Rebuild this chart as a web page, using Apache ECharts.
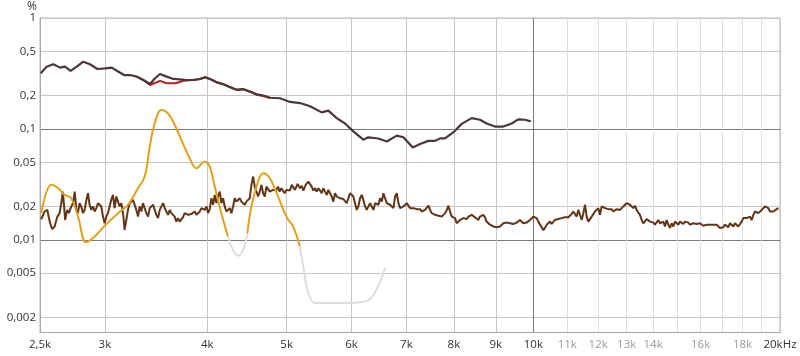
<!DOCTYPE html>
<html><head><meta charset="utf-8">
<script src="https://cdn.jsdelivr.net/npm/echarts@6/dist/echarts.min.js"></script>
<style>html,body{margin:0;padding:0;background:#fff}#c{width:800px;height:356px}</style>
</head><body><div id="c"></div>
<script>
// ---- axes ----
const xGridValues = [2500,3000,4000,5000,6000,7000,8000,9000,10000,11000,12000,13000,14000,15000,16000,17000,18000,19000,20000];
const xLabelValues = [2500,3000,4000,5000,6000,7000,8000,9000,10000,11000,12000,13000,14000,16000,18000,20000];
const yGridValues = [0.002,0.005,0.01,0.02,0.05,0.1,0.2,0.5,1];
const yLabelValues = [0.002,0.005,0.01,0.02,0.05,0.1,0.2,0.5,1];

// ---- series data: [Hz, %] ----
const darkCurve = [[2505,0.318],[2547,0.364],[2595,0.383],[2645,0.357],[2682,0.364],[2725,0.333],[2772,0.364],[2823,0.404],[2877,0.383],[2937,0.347],[3001,0.352],[3058,0.357],[3106,0.333],[3166,0.306],[3219,0.306],[3281,0.296],[3342,0.276],[3406,0.254],[3454,0.286],[3502,0.313],[3569,0.296],[3636,0.282],[3705,0.28],[3775,0.276],[3846,0.276],[3919,0.282],[3975,0.292],[4031,0.282],[4108,0.263],[4185,0.253],[4264,0.238],[4345,0.225],[4427,0.228],[4511,0.217],[4596,0.205],[4682,0.2],[4772,0.191],[4908,0.189],[5048,0.175],[5192,0.171],[5339,0.16],[5517,0.141],[5621,0.146],[5755,0.125],[5891,0.112],[6030,0.095],[6202,0.08],[6289,0.084],[6469,0.082],[6624,0.077],[6813,0.087],[6941,0.084],[7126,0.068],[7274,0.073],[7445,0.078],[7587,0.078],[7693,0.082],[7801,0.082],[7985,0.093],[8175,0.111],[8409,0.125],[8607,0.121],[8770,0.112],[8978,0.105],[9190,0.105],[9410,0.112],[9586,0.122],[9769,0.121],[9927,0.117]];

const redCurve = [[3281,0.296],[3342,0.276],[3406,0.249],[3502,0.271],[3569,0.258],[3660,0.258],[3740,0.272],[3846,0.276],[3919,0.282],[3975,0.292],[4031,0.282],[4108,0.263],[4185,0.253],[4264,0.238],[4345,0.225],[4427,0.228],[4511,0.217],[4596,0.203],[4682,0.198],[4772,0.19]];

const orangeSeg1 = [[2509,0.0174],[2581,0.0313],[2630,0.0292],[2680,0.0254],[2730,0.0237],[2782,0.0162],[2847,0.0095],[2915,0.0107],[2998,0.0134],[3113,0.0174],[3201,0.0207],[3293,0.0292],[3355,0.0372],[3403,0.0693],[3451,0.1125],[3516,0.148],[3582,0.138],[3650,0.109],[3719,0.0796],[3807,0.0544],[3879,0.0442],[3971,0.0507],[4028,0.0458],[4085,0.0302],[4161,0.0174],[4240,0.0107]];
const orangeSeg2 = [[4477,0.0115],[4528,0.020],[4614,0.0335],[4679,0.0399],[4768,0.036],[4880,0.0246],[4996,0.0162],[5090,0.0132],[5187,0.0088]];
const graySeg1 = [[4240,0.0107],[4300,0.0081],[4361,0.0072],[4423,0.0081],[4477,0.0115]];
const graySeg2 = [[5187,0.0088],[5239,0.0058],[5313,0.0033],[5414,0.0027],[5568,0.0027],[5975,0.0027],[6262,0.0028],[6440,0.0036],[6593,0.0056]];

const noiseLow = [[2508,0.0153],[2533,0.0180],[2552,0.0186],[2569,0.0146],[2586,0.0125],[2605,0.0132],[2625,0.0162],[2642,0.0174],[2654,0.0214],[2666,0.0272],[2673,0.0214],[2683,0.0151],[2698,0.0186],[2711,0.0174],[2730,0.0200],[2743,0.0214],[2756,0.0272],[2769,0.0186],[2781,0.0174],[2794,0.0214],[2807,0.0200],[2821,0.0174],[2834,0.0186],[2848,0.0229],[2861,0.0263],[2874,0.0207],[2888,0.0186],[2901,0.0200],[2915,0.0180],[2929,0.0193],[2943,0.0214],[2956,0.0221],[2970,0.0200],[2984,0.0162],[2998,0.0141],[3012,0.0162],[3026,0.0174],[3040,0.0200],[3054,0.0229],[3069,0.0254],[3083,0.0193],[3098,0.0246],[3112,0.0254],[3127,0.0200],[3142,0.0214],[3157,0.0174],[3171,0.0123],[3186,0.0151],[3201,0.0186],[3216,0.0214],[3231,0.0221],[3247,0.0229],[3262,0.0221],[3277,0.0186],[3293,0.0162],[3308,0.0200],[3324,0.0180],[3339,0.0214],[3355,0.0207],[3371,0.0174],[3387,0.0162],[3403,0.0193],[3419,0.0186],[3435,0.0207],[3451,0.0200],[3467,0.0168],[3483,0.0157],[3500,0.0186],[3516,0.0180],[3533,0.0214],[3550,0.0193],[3566,0.0180],[3583,0.0168],[3600,0.0186],[3616,0.0174],[3633,0.0180],[3650,0.0162],[3667,0.0146],[3685,0.0157],[3702,0.0146],[3719,0.0151],[3737,0.0160],[3754,0.0174],[3790,0.0168],[3808,0.0174],[3826,0.0171],[3844,0.0176],[3862,0.0180],[3880,0.0168],[3898,0.0174],[3916,0.0180],[3935,0.0193],[3953,0.0186],[3972,0.0186],[3991,0.0200],[4009,0.0174],[4028,0.0189],[4047,0.0237],[4066,0.0207],[4085,0.0254],[4104,0.0214],[4123,0.0246],[4143,0.0272],[4162,0.0214],[4182,0.0237],[4201,0.0200],[4221,0.0180],[4241,0.0174],[4261,0.0193],[4281,0.0174],[4301,0.0200],[4321,0.0237],[4341,0.0221],[4362,0.0221],[4382,0.0237],[4403,0.0221],[4423,0.0214],[4444,0.0207],[4465,0.0221],[4486,0.0214],[4507,0.0237],[4529,0.0313],[4550,0.0372],[4571,0.0302],[4593,0.0292],[4614,0.0246],[4636,0.0272],[4658,0.0313],[4680,0.0263],[4702,0.0246],[4724,0.0302],[4746,0.0313],[4768,0.0272],[4790,0.0263],[4812,0.0282],[4835,0.0292],[4858,0.0282],[4880,0.0302],[4903,0.0272],[4926,0.0292],[4949,0.0302],[4972,0.0263],[4996,0.0282]];

const noiseMid = [[5014,0.0292],[5047,0.0278],[5071,0.0313],[5094,0.0302],[5118,0.0282],[5156,0.0319],[5192,0.0292],[5216,0.0307],[5240,0.0278],[5275,0.0313],[5314,0.0335],[5339,0.0347],[5364,0.0302],[5389,0.0278],[5415,0.0292],[5440,0.0272],[5466,0.0292],[5491,0.0278],[5517,0.0263],[5543,0.0292],[5569,0.0272],[5596,0.0254],[5622,0.0282],[5648,0.0263],[5675,0.0246],[5701,0.0221],[5728,0.0263],[5755,0.0246],[5782,0.0254],[5809,0.0237],[5836,0.0229],[5864,0.0233],[5891,0.0226],[5919,0.0214],[5947,0.0207],[5975,0.0263],[6003,0.0272],[6031,0.0246],[6059,0.0214],[6088,0.0186],[6116,0.0200],[6145,0.0237],[6174,0.0254],[6203,0.0229],[6232,0.0200],[6262,0.0186],[6291,0.0200],[6321,0.0214],[6350,0.0207],[6380,0.0186],[6410,0.0214],[6440,0.0221],[6471,0.0207],[6501,0.0237],[6532,0.0221],[6562,0.0263],[6593,0.0272],[6624,0.0214],[6655,0.0221],[6686,0.0207],[6718,0.0207],[6749,0.0193],[6781,0.0246],[6813,0.0263],[6845,0.0214],[6877,0.0193],[6909,0.0186],[6942,0.0200],[6974,0.0207],[7007,0.0214],[7040,0.0207],[7073,0.0193],[7106,0.0200],[7140,0.0193],[7173,0.0186],[7207,0.0189],[7240,0.0184],[7274,0.0189],[7309,0.0180],[7343,0.0174],[7377,0.0186],[7412,0.0193],[7447,0.0203],[7482,0.0186],[7517,0.0174],[7552,0.0168],[7588,0.0168],[7623,0.0162],[7659,0.0165],[7695,0.0160],[7731,0.0162],[7768,0.0168],[7804,0.0174],[7841,0.0186],[7878,0.0203],[7914,0.0180],[7951,0.0162],[7989,0.0168],[8026,0.0157],[8064,0.0141],[8102,0.0146],[8140,0.0151],[8178,0.0146],[8217,0.0157],[8255,0.0151],[8294,0.0154],[8333,0.0162],[8372,0.0157],[8411,0.0168],[8450,0.0174]];

const noiseHigh = [[8511,0.0157],[8566,0.0151],[8606,0.0162],[8646,0.0157],[8687,0.0168],[8728,0.0160],[8770,0.0146],[8811,0.0151],[8852,0.0137],[8894,0.0141],[8936,0.0132],[8978,0.0137],[9020,0.0130],[9063,0.0128],[9106,0.0132],[9148,0.0134],[9191,0.0141],[9234,0.0137],[9278,0.0143],[9321,0.0146],[9365,0.0141],[9409,0.0143],[9453,0.0139],[9498,0.0141],[9542,0.0143],[9587,0.0146],[9632,0.0151],[9677,0.0146],[9722,0.0141],[9768,0.0146],[9814,0.0143],[9860,0.0146],[9906,0.0151],[9953,0.0146],[10000,0.0162],[10047,0.0168],[10094,0.0157],[10141,0.0146],[10189,0.0137],[10237,0.0130],[10285,0.0122],[10333,0.0128],[10382,0.0137],[10430,0.0141],[10479,0.0146],[10528,0.0139],[10578,0.0141],[10627,0.0151],[10677,0.0146],[10727,0.0154],[10778,0.0149],[10829,0.0157],[10879,0.0162],[10931,0.0160],[10982,0.0165],[11033,0.0160],[11085,0.0165],[11137,0.0171],[11190,0.0180],[11242,0.0174],[11295,0.0162],[11348,0.0186],[11401,0.0180],[11455,0.0151],[11509,0.0174],[11563,0.0207],[11617,0.0162],[11671,0.0146],[11726,0.0151],[11781,0.0162],[11836,0.0168],[11892,0.0180],[11948,0.0186],[12004,0.0193],[12060,0.0168],[12117,0.0200],[12174,0.0193],[12231,0.0193],[12288,0.0186],[12346,0.0189],[12404,0.0184],[12462,0.0189],[12520,0.0180],[12579,0.0186],[12638,0.0189],[12697,0.0193],[12758,0.0186],[12817,0.0193],[12877,0.0200],[12938,0.0207],[12998,0.0214],[13059,0.0207],[13121,0.0207],[13182,0.0200],[13244,0.0193],[13306,0.0203]];

const noiseTop = [[13369,0.0186],[13431,0.0176],[13494,0.0168],[13558,0.0151],[13621,0.0141],[13685,0.0146],[13749,0.0154],[13814,0.0151],[13879,0.0146],[13944,0.0141],[14009,0.0143],[14075,0.0137],[14141,0.0141],[14208,0.0151],[14274,0.0141],[14341,0.0137],[14409,0.0146],[14476,0.0132],[14544,0.0151],[14613,0.0137],[14681,0.0128],[14750,0.0141],[14819,0.0132],[14889,0.0146],[14959,0.0141],[15029,0.0137],[15100,0.0146],[15170,0.0143],[15242,0.0139],[15314,0.0146],[15385,0.0151],[15458,0.0143],[15530,0.0137],[15603,0.0132],[15676,0.0141],[15750,0.0146],[15824,0.0139],[15898,0.0137],[15973,0.0141],[16048,0.0137],[16123,0.0134],[16199,0.0139],[16275,0.0137],[16351,0.0132],[16428,0.0137],[16505,0.0141],[16583,0.0137],[16660,0.0132],[16739,0.0137],[16818,0.0132],[16897,0.0128],[16976,0.0123],[17055,0.0130],[17135,0.0137],[17216,0.0132],[17296,0.0130],[17378,0.0141],[17459,0.0137],[17541,0.0132],[17624,0.0141],[17706,0.0137],[17789,0.0132],[17873,0.0134],[17957,0.0146],[18041,0.0157],[18126,0.0154],[18211,0.0157],[18297,0.0154],[18383,0.0162],[18470,0.0151],[18556,0.0168],[18644,0.0180],[18731,0.0186],[18819,0.0174],[18908,0.0168],[18997,0.0186],[19086,0.0180],[19176,0.0200],[19266,0.0207],[19356,0.0193],[19447,0.0180],[19539,0.0174],[19630,0.0180],[19723,0.0186],[19815,0.0189],[19909,0.0193]];

const noiseCurve = noiseLow.concat(noiseMid, noiseHigh, noiseTop);

const FONT = '"Open Sans", "DejaVu Sans", sans-serif';
const GRID_C = '#c6c6c6', GRID_MAJOR = '#7a7a7a', GRID_LIGHT = '#dedede';

const xLineColors = xGridValues.map(v => v === 10000 ? GRID_MAJOR : (v > 10000 && v < 20000 ? GRID_LIGHT : GRID_C));
const yLineColors = yGridValues.map(v => (v === 0.1 || v === 0.01) ? GRID_MAJOR : GRID_C);

function fmtX(v) {
  if (v === 20000) return '{d|20kHz}';
  const s = String(v / 1000).replace('.', ',') + 'k';
  return (v > 10000 ? '{l|' : '{d|') + s + '}';
}
function fmtY(v) { return String(v).replace('.', ','); }

const chart = echarts.init(document.getElementById('c'), null, {renderer: 'canvas'});
function line(data, color, width, z, smooth) {
  return {type: 'line', data: data, showSymbol: false, symbol: 'none', smooth: smooth || false,
    lineStyle: {color: color, width: width}, z: z, animation: false, silent: true};
}
chart.setOption({
  animation: false,
  backgroundColor: '#ffffff',
  grid: {left: 40, right: 20, top: 18, bottom: 23.5, show: true, borderColor: '#b8b8b8', borderWidth: 1, containLabel: false, outerBoundsMode: 'none'},
  xAxis: {
    type: 'log', logBase: 10, min: 2500, max: 20000,
    axisLine: {show: true, lineStyle: {color: '#a8a8a8', width: 1}},
    axisTick: {show: false, customValues: xGridValues},
    splitLine: {show: true, lineStyle: {color: xLineColors, width: 1}},
    axisLabel: {customValues: xLabelValues, formatter: fmtX, margin: 6,
      rich: {d: {color: '#333', fontSize: 11.5, fontFamily: FONT}, l: {color: '#9a9a9a', fontSize: 11.5, fontFamily: FONT}}}
  },
  yAxis: {
    type: 'log', logBase: 10, min: 0.00146, max: 1,
    name: '%', nameLocation: 'end', nameGap: 5,
    nameTextStyle: {color: '#333', fontSize: 12, fontFamily: FONT, align: 'right', padding: [0, 3, 0, 0]},
    axisLine: {show: true, lineStyle: {color: '#a8a8a8', width: 1}},
    axisTick: {show: false, customValues: yGridValues},
    splitLine: {show: true, lineStyle: {color: yLineColors, width: 1}},
    axisLabel: {customValues: yLabelValues, formatter: fmtY, margin: 4, color: '#333', fontSize: 11.5, fontFamily: FONT}
  },
  series: [
    line(noiseCurve, '#633517', 2, 2, false),
    line(graySeg1, '#dddddd', 2, 3, 0.4),
    line(graySeg2, '#dddddd', 2, 3, 0.4),
    line(orangeSeg1, '#e0a020', 2, 4, 0.4),
    line(orangeSeg2, '#e0a020', 2, 4, 0.4),
    line(redCurve, '#b81c1c', 2, 5, false),
    line(darkCurve, '#4a3739', 2.2, 6, false)
  ]
});
</script>
</body></html>
